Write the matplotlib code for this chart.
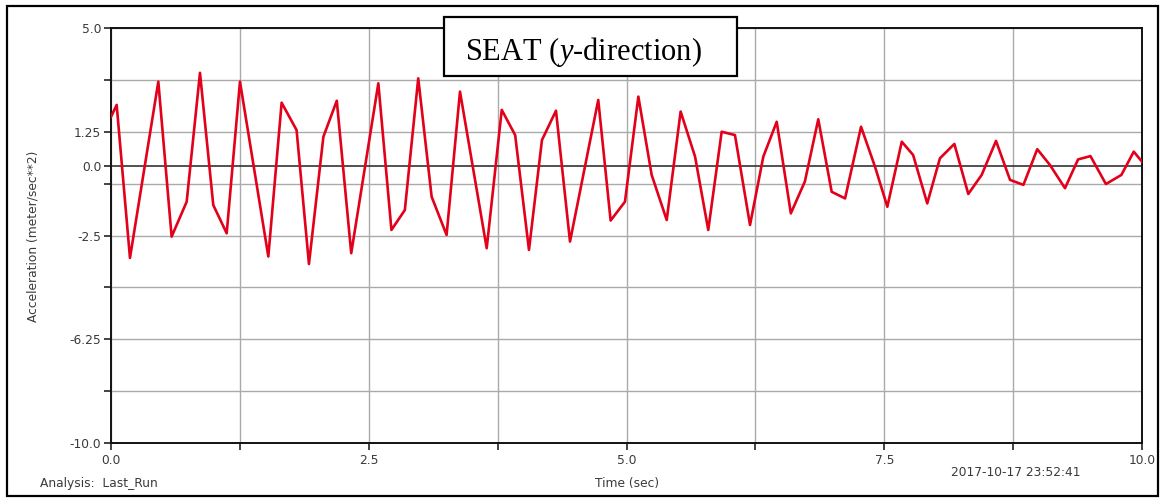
import numpy as np
import matplotlib as mpl
mpl.use("Agg")
import matplotlib.pyplot as plt
from matplotlib.patches import Rectangle

plt.rcParams['font.family'] = ['DejaVu Sans']
plt.rcParams['mathtext.fontset'] = 'custom'
plt.rcParams['mathtext.rm'] = 'Liberation Serif'
plt.rcParams['mathtext.it'] = 'Liberation Serif:italic'

# vertices of the response curve
time = [0.0, 0.055, 0.184, 0.459, 0.588, 0.734, 0.863, 0.992, 1.122, 1.251,
        1.526, 1.655, 1.80, 1.92, 2.06, 2.19, 2.33, 2.593, 2.72, 2.85,
        2.98, 3.11, 3.255, 3.385, 3.644, 3.79, 3.92, 4.054, 4.18, 4.316,
        4.452, 4.726, 4.846, 4.985, 5.115, 5.244, 5.39, 5.525, 5.665, 5.793,
        5.923, 6.052, 6.198, 6.327, 6.457, 6.594, 6.73, 6.86, 6.99, 7.12,
        7.275, 7.41, 7.53, 7.67, 7.78, 7.917, 8.04, 8.18, 8.315, 8.445,
        8.584, 8.72, 8.85, 8.984, 9.107, 9.253, 9.38, 9.50, 9.65, 9.80,
        9.92, 10.0]
accel = [1.79, 2.22, -3.31, 3.06, -2.54, -1.28, 3.38, -1.40, -2.42, 3.06,
         -3.26, 2.30, 1.31, -3.53, 1.07, 2.37, -3.14, 3.00, -2.30, -1.58,
         3.18, -1.10, -2.48, 2.70, -2.96, 2.04, 1.13, -3.02, 0.95, 2.01,
         -2.72, 2.40, -1.96, -1.28, 2.52, -0.31, -1.94, 1.98, 0.35, -2.30,
         1.25, 1.13, -2.12, 0.35, 1.61, -1.70, -0.55, 1.70, -0.92, -1.16,
         1.43, -0.01, -1.46, 0.89, 0.41, -1.34, 0.29, 0.81, -1.00, -0.31,
         0.92, -0.49, -0.67, 0.62, 0.05, -0.79, 0.25, 0.37, -0.64, -0.31,
         0.53, 0.17]

xticks = [0.0, 1.25, 2.5, 3.75, 5.0, 6.25, 7.5, 8.75, 10.0]
xlabels = ['0.0', '', '2.5', '', '5.0', '', '7.5', '', '10.0']
ygrid = [5.0, 3.125, 1.25, -0.625, -2.5, -4.375, -6.25, -8.125, -10.0]
yticks = [5.0, 3.125, 1.25, 0.0, -0.625, -2.5, -4.375, -6.25, -8.125, -10.0]
ylabels = ['5.0', '', '1.25', '0.0', '', '-2.5', '', '-6.25', '', '-10.0']

W, H = 1160, 499
fs = 8.8
tc = '#3a3a3a'
fig = plt.figure(figsize=(W / 100, H / 100), dpi=100)
ax = fig.add_axes([111 / W, 1 - 443 / H, (1142 - 111) / W, (443 - 28) / H])

for g in xticks:
    ax.axvline(g, color='#aaaaaa', lw=1.0, zorder=1)
for g in ygrid:
    ax.axhline(g, color='#aaaaaa', lw=1.0, zorder=1)
ax.axhline(0.0, color='#333333', lw=1.2, zorder=2)

ax.plot(time, accel, color='#e2001a', lw=1.9, zorder=3)

ax.set_xlim(0, 10)
ax.set_ylim(-10, 5)
ax.set_xticks(xticks)
ax.set_xticklabels(xlabels)
ax.set_yticks(yticks)
ax.set_yticklabels(ylabels)
ax.tick_params(axis='both', direction='out', length=5, width=1.2,
               color='#222222', labelsize=fs, labelcolor=tc, pad=3)
ax.tick_params(axis='y', pad=2)
for s in ax.spines.values():
    s.set_color('#111111')
    s.set_linewidth(1.4)

fig.text(33 / W, 1 - 236 / H, 'Acceleration (meter/sec**2)', fontsize=fs,
         color=tc, rotation=90, ha='center', va='center')
fig.text(627 / W, 1 - 483 / H, 'Time (sec)', fontsize=fs, color=tc,
         ha='center', va='center')
fig.text(40 / W, 1 - 483 / H, 'Analysis:  Last_Run', fontsize=fs,
         color=tc, ha='left', va='center')
fig.text(1016 / W, 1 - 472 / H, '2017-10-17 23:52:41', fontsize=fs,
         color=tc, ha='center', va='center')

# title box
fig.patches.append(Rectangle((444 / W, 1 - 76 / H), (737 - 444) / W, (76 - 17) / H,
                             transform=fig.transFigure, facecolor='white',
                             edgecolor='black', lw=1.6, zorder=5))
fig.text(583 / W, 1 - 60 / H, r'SEAT ($\mathit{y}$-direction)', fontsize=22,
         family='Liberation Serif', ha='center', va='baseline', zorder=6)

# outer frame
fig.patches.append(Rectangle((7 / W, 1 - 496 / H), (1158 - 7) / W, (496 - 6) / H,
                             transform=fig.transFigure, facecolor='none',
                             edgecolor='black', lw=1.6, zorder=4))

fig.savefig('out.png', dpi=100)
